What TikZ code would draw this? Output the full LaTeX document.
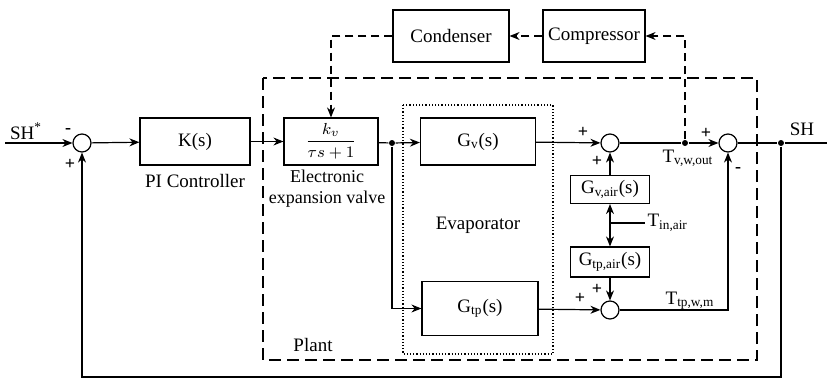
\documentclass[tikz,border=0pt]{standalone}
\usepackage{amsmath}
\usepackage{fontspec}
\setmainfont{Liberation Serif}
\usetikzlibrary{arrows.meta,positioning}
\tikzset{
  blk/.style={draw, rectangle, minimum height=23.5pt, minimum width=55pt, align=center, inner sep=1pt},
  sblk/.style={draw, rectangle, minimum height=14pt, minimum width=39.5pt, align=center, inner sep=1pt},
  sum/.style={draw, circle, minimum size=9pt, inner sep=0pt},
  dot/.style={circle, fill, inner sep=0pt, minimum size=3pt},
  lbl/.style={align=center, inner sep=1pt},
  sgn/.style={font=\small\bfseries, inner sep=0pt},
  arr/.style={-{Stealth[length=5pt,width=4pt]}},
  darr/.style={-{Stealth[length=5pt,width=4pt]}, dash pattern=on 4pt off 2.5pt},
}
\begin{document}
\begin{tikzpicture}[x=0.5pt, y=-0.5pt, line width=0.6pt, font=\fontsize{9.5}{11}\selectfont]
\useasboundingbox (0,0) rectangle (827,380);

% frames
\draw[dash pattern=on 6pt off 3pt] (263,78) rectangle (757,360);
\draw[densely dotted] (403,105) rectangle (553,354);

% blocks
\node[sum] (s1) at (82,143) {};
\node[blk] (ks) at (195,141.5) {K(s)};
\node[blk, minimum width=47pt, inner sep=0pt, font=\fontsize{8.5}{10}\selectfont] (eev) at (331,141.5) {$\dfrac{k_v}{\tau s+1}$};
\node[dot] (d1) at (392,143) {};
\node[blk, minimum width=57.5pt] (gv) at (478,141.5) {G\textsubscript{v}(s)};
\node[blk, minimum width=58pt, minimum height=27pt] (gtp) at (480,308.5) {G\textsubscript{tp}(s)};
\node[sum] (s2) at (610,143) {};
\node[sum] (s3) at (610,310) {};
\node[sum] (s4) at (728,143) {};
\node[sblk] (gva) at (610,189.5) {G\textsubscript{v,air}(s)};
\node[sblk, minimum height=15pt] (gtpa) at (610,262) {G\textsubscript{tp,air}(s)};
\node[dot] (d2) at (685,143) {};
\node[dot] (d3) at (781,143) {};
\node[blk, minimum width=58pt, minimum height=26pt] (cond) at (451,36) {Condenser};
\node[blk, minimum width=51pt, minimum height=26pt] (comp) at (594,36) {Compressor};

\coordinate (in) at (5,143);
\coordinate (out) at (827,143);
\coordinate (tin) at (610,223);
\coordinate (tinend) at (645,223);

% text labels
\node[lbl, below=3pt of ks] {PI Controller};
\node[lbl, below=2pt of eev, xshift=-2pt, inner sep=0pt, font=\fontsize{9}{10.5}\selectfont] {Electronic\\expansion valve};
\node[lbl] at (478,225) {Evaporator};
\node[lbl] at (313,345) {Plant};
\node[lbl] at (26,131) {SH\textsuperscript{*}};
\node[lbl] at (802,129) {SH};
\node[lbl, anchor=west] at (tinend) {T\textsubscript{in,air}};
\node[lbl] at (688,158) {T\textsubscript{v,w,out}};
\node[lbl] at (690,301) {T\textsubscript{tp,w,m}};

% signs
\node[sgn] at (68,131) {-};
\node[sgn] at (70,164) {+};
\node[sgn] at (583,132) {+};
\node[sgn] at (597,161) {+};
\node[sgn] at (580,298) {+};
\node[sgn] at (597,289) {+};
\node[sgn] at (706,133) {+};
\node[sgn] at (738,170) {-};

% main path
\draw[arr] (in) -- (s1);
\draw[arr] (s1) -- (ks);
\draw[arr] (ks) -- (eev);
\draw (eev) -- (d1);
\draw[arr] (d1) -- (gv);
\draw[arr] (d1) |- (gtp);
\draw[arr] (gv) -- (s2);
\draw[arr] (gtp) -- (s3);
\draw (s2) -- (d2);
\draw[arr] (d2) -- (s4);
\draw (s4) -- (d3) -- (out);
\draw[arr] (s3) -| (s4);
\draw[arr] (d3) |- (82,377) -- (s1);

% air side
\draw[arr] (gva) -- (s2);
\draw[arr] (gtpa) -- (s3);
\draw[arr] (tin) -- (gva);
\draw[arr] (tin) -- (gtpa);
\draw (tin) -- (tinend);

% refrigerant loop
\draw[darr] (d2) |- (comp);
\draw[darr] (comp) -- (cond);
\draw[darr] (cond) -| (eev);

\end{tikzpicture}
\end{document}
